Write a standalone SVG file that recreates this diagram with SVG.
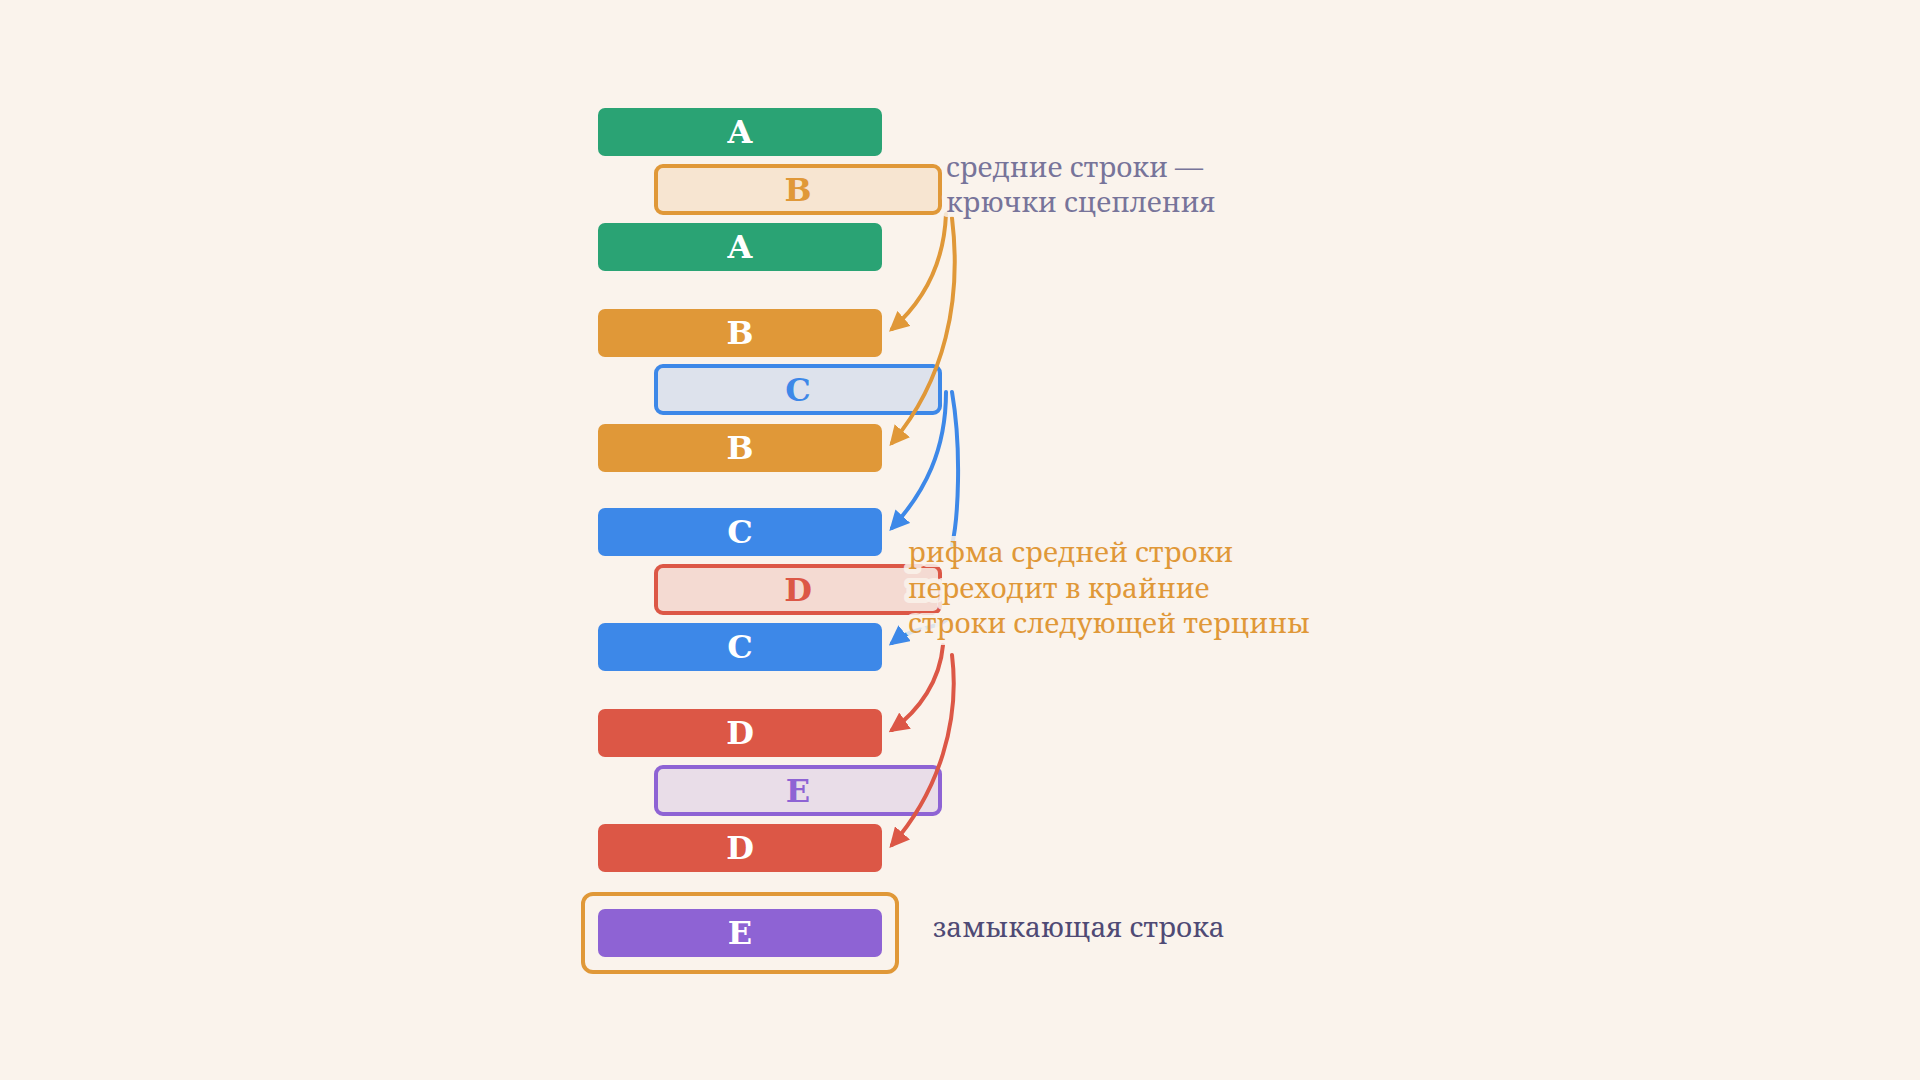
<svg xmlns="http://www.w3.org/2000/svg" width="1920" height="1080" viewBox="0 0 1920 1080">
<defs>
<style>
.b{font-family:"DejaVu Serif","Liberation Serif",serif;font-weight:bold;font-size:32px;text-anchor:middle}
.w{fill:#fff}
.l{font-family:"Noto Serif","DejaVu Serif","Liberation Serif",serif;font-size:28px;paint-order:stroke;stroke:#faf3ec;stroke-width:10px;stroke-opacity:0.85;stroke-linejoin:round}
.c{fill:none;stroke-width:4;stroke-linecap:round}
</style>
<marker id="mo" viewBox="0 0 10 10" refX="8" refY="5" markerWidth="5" markerHeight="5" orient="auto"><path d="M0,0L10,5L0,10z" fill="#e09838"/></marker>
<marker id="mb" viewBox="0 0 10 10" refX="8" refY="5" markerWidth="5" markerHeight="5" orient="auto"><path d="M0,0L10,5L0,10z" fill="#3d88e8"/></marker>
<marker id="mr" viewBox="0 0 10 10" refX="8" refY="5" markerWidth="5" markerHeight="5" orient="auto"><path d="M0,0L10,5L0,10z" fill="#dc5746"/></marker>
</defs>
<rect width="1920" height="1080" fill="#faf3ec"/>
<g id="n1"><rect x="598" y="108" width="284" height="48" rx="7" fill="#2aa374"/><text class="b w" x="740" y="143">A</text></g>
<g id="n2"><rect x="656" y="166" width="284" height="47" rx="7" fill="#f7e5d1" stroke="#e09838" stroke-width="4"/><text class="b" fill="#e09838" x="798" y="201">B</text></g>
<g id="n3"><rect x="598" y="223" width="284" height="48" rx="7" fill="#2aa374"/><text class="b w" x="740" y="258">A</text></g>
<g id="n4"><rect x="598" y="309" width="284" height="48" rx="7" fill="#e09838"/><text class="b w" x="740" y="344">B</text></g>
<g id="n5"><rect x="656" y="366" width="284" height="47" rx="7" fill="#dde2ec" stroke="#3d88e8" stroke-width="4"/><text class="b" fill="#3d88e8" x="798" y="401">C</text></g>
<g id="n6"><rect x="598" y="424" width="284" height="48" rx="7" fill="#e09838"/><text class="b w" x="740" y="459">B</text></g>
<g id="n7"><rect x="598" y="508" width="284" height="48" rx="7" fill="#3d88e8"/><text class="b w" x="740" y="543">C</text></g>
<g id="n8"><rect x="656" y="566" width="284" height="47" rx="7" fill="#f4dad2" stroke="#dc5746" stroke-width="4"/><text class="b" fill="#dc5746" x="798" y="601">D</text></g>
<g id="n9"><rect x="598" y="623" width="284" height="48" rx="7" fill="#3d88e8"/><text class="b w" x="740" y="658">C</text></g>
<g id="n10"><rect x="598" y="709" width="284" height="48" rx="7" fill="#dc5746"/><text class="b w" x="740" y="744">D</text></g>
<g id="n11"><rect x="656" y="767" width="284" height="47" rx="7" fill="#e9dde8" stroke="#8e63d4" stroke-width="4"/><text class="b" fill="#8e63d4" x="798" y="802">E</text></g>
<g id="n12"><rect x="598" y="824" width="284" height="48" rx="7" fill="#dc5746"/><text class="b w" x="740" y="859">D</text></g>
<g id="n13"><rect x="583" y="894" width="314" height="78" rx="10" fill="none" stroke="#e09838" stroke-width="4"/><rect x="598" y="909" width="284" height="48" rx="7" fill="#8e63d4"/><text class="b w" x="740" y="944">E</text></g>
<g id="connectors">
<path class="c" stroke="#e09838" marker-end="url(#mo)" d="M946,214 C944,262 925,300 892,329"/>
<path class="c" stroke="#e09838" marker-end="url(#mo)" d="M952,218 C962,300 945,380 892,443"/>
<path class="c" stroke="#3d88e8" marker-end="url(#mb)" d="M946,392 C946,450 925,492 892,528"/>
<path class="c" stroke="#3d88e8" marker-end="url(#mb)" d="M952,392 C962,450 958,520 952,545 M946,620 C935,630 915,625 892,643"/>
<path class="c" stroke="#dc5746" marker-end="url(#mr)" d="M943,645 C940,680 920,710 892,730"/>
<path class="c" stroke="#dc5746" marker-end="url(#mr)" d="M952,655 C960,720 940,790 892,845"/>
</g>
<g id="labels">
<text class="l" fill="#77749a" x="946" y="177">средние строки —</text>
<text class="l" fill="#77749a" x="946" y="212">крючки сцепления</text>
<text class="l" fill="#e09838" x="908" y="562">рифма средней строки</text>
<text class="l" fill="#e09838" x="908" y="598">переходит в крайние</text>
<text class="l" fill="#e09838" x="908" y="633">строки следующей терцины</text>
<text class="l" fill="#4f4a75" x="933" y="937">замыкающая строка</text>
</g>
</svg>
